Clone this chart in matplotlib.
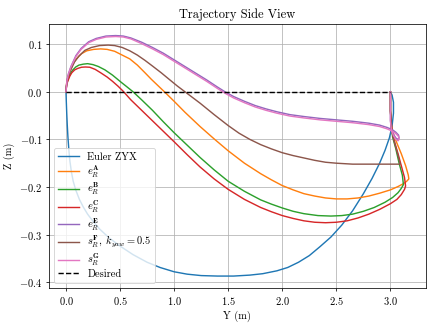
import matplotlib
matplotlib.use('Agg')
import matplotlib.pyplot as plt

plt.rcParams['font.family'] = 'serif'
plt.rcParams['font.serif'] = ['cmr10', 'DejaVu Serif']
plt.rcParams['mathtext.fontset'] = 'cm'
plt.rcParams['axes.formatter.use_mathtext'] = True
plt.rcParams['font.size'] = 11

# --- Data ---
euler_y = [0.0, 0.003, 0.007, 0.012, 0.018, 0.026, 0.036, 0.05, 0.067, 0.09, 0.124, 0.16, 0.2,
           0.25, 0.31, 0.4, 0.5, 0.62, 0.75, 0.87, 1.0, 1.12, 1.25, 1.4, 1.55, 1.7, 1.82, 1.95,
           2.05, 2.15, 2.25, 2.35, 2.45, 2.55, 2.65, 2.75, 2.83, 2.9, 2.95, 2.99, 3.015, 3.028,
           3.028, 3.015, 3.0]
euler_z = [0.0, -0.02, -0.045, -0.07, -0.095, -0.12, -0.145, -0.168, -0.188, -0.206, -0.226,
           -0.242, -0.257, -0.272, -0.288, -0.307, -0.324, -0.342, -0.358, -0.369, -0.378, -0.383,
           -0.386, -0.387, -0.387, -0.385, -0.382, -0.376, -0.369, -0.358, -0.344, -0.325, -0.305,
           -0.28, -0.25, -0.214, -0.182, -0.15, -0.123, -0.097, -0.072, -0.045, -0.022, -0.007, 0.0]

a_y = [0.0, 0.006, 0.016, 0.032, 0.064, 0.096, 0.144, 0.192, 0.256, 0.32, 0.38, 0.45, 0.52, 0.59,
       0.66, 0.73, 0.79, 0.85, 0.91, 1.0, 1.1, 1.24, 1.37, 1.5, 1.65, 1.8, 1.9, 2.0, 2.1, 2.2, 2.3,
       2.4, 2.5, 2.6, 2.7, 2.8, 2.9, 3.0, 3.07, 3.12, 3.15, 3.17, 3.165, 3.14, 3.1, 3.06, 3.03,
       3.01, 3.0, 3.0]
a_z = [0.0, 0.018, 0.029, 0.04, 0.058, 0.069, 0.08, 0.086, 0.089, 0.09, 0.089, 0.085, 0.077,
       0.069, 0.056, 0.04, 0.026, 0.013, 0.0, -0.02, -0.043, -0.073, -0.099, -0.124, -0.15,
       -0.172, -0.185, -0.197, -0.206, -0.214, -0.219, -0.223, -0.225, -0.225, -0.223, -0.219,
       -0.213, -0.206, -0.199, -0.193, -0.188, -0.183, -0.175, -0.155, -0.13, -0.108, -0.09,
       -0.075, -0.04, 0.0]

b_y = [0.0, 0.004, 0.01, 0.02, 0.04, 0.06, 0.09, 0.12, 0.16, 0.2, 0.25, 0.3, 0.36, 0.43, 0.51,
       0.56, 0.62, 0.7, 0.8, 0.9, 1.0, 1.12, 1.24, 1.37, 1.5, 1.65, 1.8, 1.9, 2.0, 2.1, 2.2, 2.33,
       2.45, 2.55, 2.65, 2.75, 2.85, 2.95, 3.02, 3.07, 3.1, 3.12, 3.11, 3.08, 3.05, 3.02, 3.01,
       3.0, 3.0]
b_z = [0.0, 0.012, 0.019, 0.027, 0.038, 0.045, 0.052, 0.056, 0.058, 0.059, 0.057, 0.053, 0.046,
       0.035, 0.02, 0.011, 0.0, -0.017, -0.039, -0.063, -0.086, -0.112, -0.138, -0.164, -0.188,
       -0.209, -0.227, -0.236, -0.244, -0.251, -0.256, -0.26, -0.261, -0.26, -0.257, -0.251,
       -0.243, -0.232, -0.222, -0.212, -0.203, -0.195, -0.175, -0.15, -0.12, -0.095, -0.075,
       -0.04, 0.0]

c_y = [0.0, 0.004, 0.009, 0.018, 0.036, 0.054, 0.081, 0.108, 0.144, 0.18, 0.22, 0.27, 0.32, 0.38,
       0.43, 0.48, 0.525, 0.6, 0.7, 0.8, 0.9, 1.0, 1.12, 1.24, 1.37, 1.5, 1.65, 1.8, 1.9, 2.0, 2.1,
       2.2, 2.3, 2.4, 2.5, 2.6, 2.7, 2.8, 2.9, 3.0, 3.06, 3.1, 3.13, 3.14, 3.13, 3.1, 3.07, 3.04,
       3.02, 3.01, 3.0, 3.0]
c_z = [0.0, 0.01, 0.017, 0.023, 0.033, 0.04, 0.046, 0.049, 0.0515, 0.052, 0.0515, 0.047, 0.04,
       0.031, 0.022, 0.012, 0.002, -0.017, -0.039, -0.061, -0.083, -0.105, -0.132, -0.158,
       -0.183, -0.205, -0.226, -0.243, -0.252, -0.26, -0.266, -0.271, -0.274, -0.275, -0.274,
       -0.271, -0.265, -0.257, -0.247, -0.235, -0.226, -0.216, -0.205, -0.198, -0.18, -0.155,
       -0.13, -0.107, -0.09, -0.07, -0.04, 0.0]

e_y = [0.0, 0.009, 0.023, 0.046, 0.092, 0.14, 0.21, 0.28, 0.37, 0.46, 0.53, 0.6, 0.7, 0.8, 0.9,
       1.0, 1.1, 1.2, 1.3, 1.4, 1.47, 1.55, 1.65, 1.75, 1.85, 1.95, 2.07, 2.2, 2.35, 2.5, 2.65,
       2.8, 2.9, 2.97, 3.02, 3.05, 3.075, 3.08, 3.07, 3.05, 3.03, 3.01, 3.0, 3.0]
e_z = [0.0, 0.024, 0.038, 0.053, 0.076, 0.091, 0.105, 0.112, 0.117, 0.118, 0.117, 0.113, 0.104,
       0.093, 0.081, 0.067, 0.053, 0.039, 0.025, 0.01, 0.0, -0.01, -0.02, -0.029, -0.036,
       -0.042, -0.048, -0.052, -0.056, -0.059, -0.062, -0.066, -0.07, -0.075, -0.08, -0.085,
       -0.091, -0.097, -0.1, -0.097, -0.09, -0.08, -0.06, 0.0]

f_y = [0.0, 0.008, 0.02, 0.04, 0.08, 0.12, 0.175, 0.235, 0.31, 0.39, 0.45, 0.52, 0.59, 0.66, 0.73,
       0.8, 0.88, 0.96, 1.03, 1.1, 1.17, 1.24, 1.37, 1.5, 1.6, 1.7, 1.8, 1.9, 2.0, 2.1, 2.2, 2.3,
       2.4, 2.5, 2.65, 2.8, 2.95, 3.09, 3.06, 3.03, 3.01, 3.0, 3.0]
f_z = [0.0, 0.02, 0.031, 0.044, 0.063, 0.075, 0.087, 0.093, 0.097, 0.098, 0.097, 0.093, 0.086,
       0.077, 0.066, 0.054, 0.04, 0.025, 0.012, 0.0, -0.012, -0.024, -0.048, -0.071, -0.087,
       -0.1, -0.111, -0.12, -0.128, -0.134, -0.139, -0.144, -0.148, -0.15, -0.152, -0.152,
       -0.152, -0.152, -0.125, -0.1, -0.08, -0.04, 0.0]

g_y = [0.0, 0.009, 0.023, 0.046, 0.092, 0.14, 0.21, 0.28, 0.37, 0.46, 0.53, 0.6, 0.7, 0.8, 0.9,
       1.0, 1.1, 1.2, 1.3, 1.4, 1.47, 1.55, 1.65, 1.75, 1.85, 1.95, 2.07, 2.2, 2.35, 2.5, 2.65,
       2.8, 2.9, 2.97, 3.02, 3.05, 3.075, 3.08, 3.07, 3.05, 3.03, 3.01, 3.0, 3.0]
g_z = [0.0, 0.023, 0.037, 0.052, 0.074, 0.089, 0.103, 0.11, 0.115, 0.116, 0.115, 0.111, 0.101,
       0.09, 0.078, 0.064, 0.05, 0.036, 0.022, 0.007, -0.003, -0.013, -0.023, -0.032, -0.039,
       -0.045, -0.051, -0.055, -0.059, -0.062, -0.065, -0.069, -0.073, -0.078, -0.083, -0.088,
       -0.094, -0.1, -0.103, -0.1, -0.093, -0.082, -0.062, 0.0]

desired_y = [0.0, 3.0]
desired_z = [0.0, 0.0]

labels = ['Euler ZYX', r'$e_R^{\mathbf{A}}$', r'$e_R^{\mathbf{B}}$', r'$e_R^{\mathbf{C}}$',
          r'$e_R^{\mathbf{E}}$', r'$s_R^{\mathbf{F}},\ k_{yaw} = 0.5$', r'$s_R^{\mathbf{G}}$', 'Desired']

# --- Plot ---
fig, ax = plt.subplots(figsize=(6.4, 4.8), dpi=68.125)
ax.plot(euler_y, euler_z, label=labels[0])
ax.plot(a_y, a_z, label=labels[1])
ax.plot(b_y, b_z, label=labels[2])
ax.plot(c_y, c_z, label=labels[3])
ax.plot(e_y, e_z, label=labels[4])
ax.plot(f_y, f_z, label=labels[5])
ax.plot(g_y, g_z, label=labels[6])
ax.plot(desired_y, desired_z, 'k--', label=labels[7])

ax.set_title('Trajectory Side View')
ax.set_xlabel('Y (m)')
ax.set_ylabel('Z (m)')
ax.grid(True)
ax.legend(loc='lower left', labelspacing=0.12)

fig.subplots_adjust(left=0.112, right=0.977, top=0.928, bottom=0.119)
fig.savefig('out.png', dpi=68.125)
